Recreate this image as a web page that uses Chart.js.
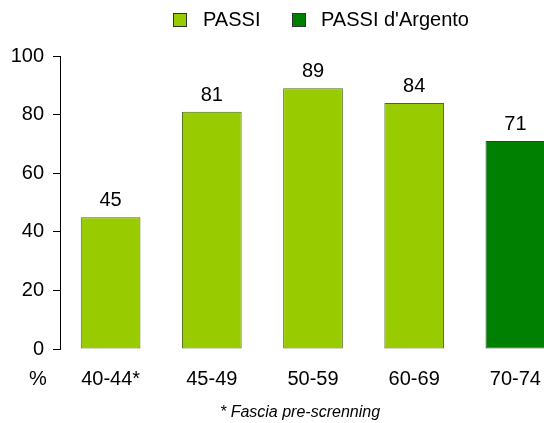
<!DOCTYPE html>
<html>
<head>
<meta charset="utf-8">
<script src="https://cdn.jsdelivr.net/npm/chart.js@4.4.1/dist/chart.umd.min.js"></script>
<style>
  html, body { margin: 0; padding: 0; background: #fff; overflow: hidden; }
  #wrap { width: 566px; height: 423px; }
</style>
</head>
<body>
<div id="wrap"><canvas id="chart" width="566" height="423"></canvas></div>
<script>
// age bands and % values
const categories = ['40-44*', '45-49', '50-59', '60-69', '70-74'];
const values = [45, 81, 89, 84, 71];
const barColors = ['#99cc00', '#99cc00', '#99cc00', '#99cc00', '#008000'];
const barBorders = ['#4f6a12', '#4f6a12', '#4f6a12', '#4f6a12', '#1f4a1f'];
const yTicks = [0, 20, 40, 60, 80, 100];
const legendLabels = ['PASSI', "PASSI d'Argento"];
const legendColors = ['#99cc00', '#008000'];
const yUnit = '%';
const footnote = '* Fascia pre-screnning';

const FONT = '"Liberation Sans", Arial, sans-serif';

// value labels, legend, unit and footnote
const extrasPlugin = {
  id: 'extras',
  afterDatasetsDraw(chart) {
    const ctx = chart.ctx;
    const meta = chart.getDatasetMeta(0);
    ctx.save();
    ctx.fillStyle = '#000';
    ctx.font = '20px ' + FONT;
    ctx.textAlign = 'center';
    ctx.textBaseline = 'alphabetic';
    meta.data.forEach((bar, i) => {
      ctx.fillText(String(values[i]), bar.x, bar.y - 11);
    });
    ctx.restore();
  },
  afterDraw(chart) {
    const ctx = chart.ctx;
    ctx.save();
    ctx.font = '20px ' + FONT;
    ctx.textBaseline = 'middle';
    ctx.textAlign = 'left';

    // legend
    const boxX = [173, 292];
    const textX = [203, 321];
    legendLabels.forEach((lbl, i) => {
      ctx.fillStyle = legendColors[i];
      ctx.fillRect(boxX[i], 13, 14, 14);
      ctx.strokeStyle = '#333';
      ctx.lineWidth = 1;
      ctx.strokeRect(boxX[i] + 0.5, 13.5, 13, 13);
      ctx.fillStyle = '#000';
      ctx.fillText(lbl, textX[i], 20);
    });

    // unit under the y axis
    ctx.textAlign = 'center';
    ctx.fillText(yUnit, 38, 379);

    // footnote
    ctx.font = 'italic 16px ' + FONT;
    ctx.fillText(footnote, 300, 413);
    ctx.restore();
  }
};

new Chart(document.getElementById('chart'), {
  type: 'bar',
  data: {
    labels: categories,
    datasets: [{
      label: 'PASSI',
      data: values,
      backgroundColor: barColors,
      borderColor: barBorders,
      borderWidth: 1,
      borderSkipped: false,
      categoryPercentage: 1,
      barPercentage: 0.59
    }]
  },
  options: {
    responsive: false,
    animation: false,
    devicePixelRatio: 1,
    layout: { padding: { top: 56, bottom: 14, left: 0, right: 0 } },
    plugins: {
      legend: { display: false },
      tooltip: { enabled: false }
    },
    scales: {
      x: {
        grid: { display: false, drawTicks: false },
        border: { display: false },
        ticks: {
          color: '#000',
          font: { family: FONT, size: 20 },
          padding: 18,
          maxRotation: 0
        }
      },
      y: {
        min: 0,
        max: 100,
        afterBuildTicks: (scale) => {
          scale.ticks = yTicks.map(v => ({ value: v }));
        },
        afterFit: (scale) => {
          scale.width = 60;
        },
        grid: {
          drawOnChartArea: false,
          drawTicks: true,
          tickLength: 7,
          color: '#000'
        },
        border: { display: true, color: '#000', width: 1 },
        ticks: {
          color: '#000',
          font: { family: FONT, size: 20 },
          padding: 9
        }
      }
    }
  },
  plugins: [extrasPlugin]
});
</script>
</body>
</html>
